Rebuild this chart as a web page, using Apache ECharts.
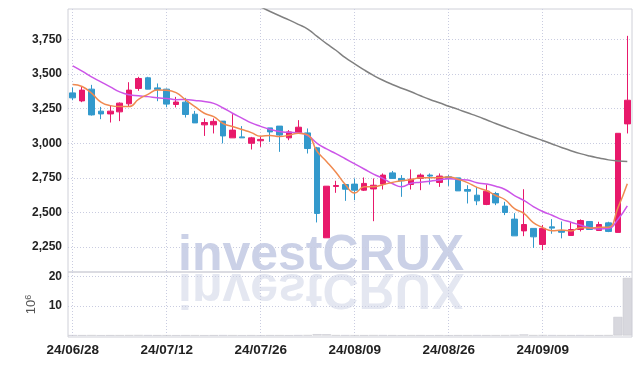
<!DOCTYPE html>
<html>
<head>
<meta charset="utf-8">
<script src="https://cdn.jsdelivr.net/npm/echarts@6/dist/echarts.min.js"></script>
<style>
html,body{margin:0;padding:0;background:#fff;}
#chart{width:642px;height:366px;}
</style>
</head>
<body>
<div id="chart"></div>
<script>
const dates = ['24/06/28','24/07/01','24/07/02','24/07/03','24/07/04','24/07/05','24/07/08','24/07/09','24/07/10','24/07/11',
'24/07/12','24/07/15','24/07/16','24/07/17','24/07/18','24/07/19','24/07/22','24/07/23','24/07/24','24/07/25',
'24/07/26','24/07/29','24/07/30','24/07/31','24/08/01','24/08/02','24/08/05','24/08/06','24/08/07','24/08/08',
'24/08/09','24/08/12','24/08/13','24/08/14','24/08/16','24/08/19','24/08/20','24/08/21','24/08/22','24/08/23',
'24/08/26','24/08/27','24/08/28','24/08/29','24/08/30','24/09/02','24/09/03','24/09/04','24/09/05','24/09/06',
'24/09/09','24/09/10','24/09/11','24/09/12','24/09/13','24/09/19','24/09/20','24/09/23','24/09/24','24/09/25'];

// [open, close, low, high]
const candles = [
[3364,3328,3311,3403],[3306,3384,3297,3413],[3391,3205,3200,3422],[3232,3212,3174,3263],[3212,3232,3150,3273],
[3227,3290,3160,3295],[3285,3384,3263,3441],[3396,3468,3379,3480],[3473,3391,3390,3480],[3400,3389,3304,3432],
[3391,3283,3260,3395],[3280,3298,3259,3335],[3297,3208,3186,3328],[3210,3147,3147,3234],[3133,3150,3053,3179],
[3133,3158,3071,3179],[3160,3053,2999,3160],[3039,3095,3039,3210],[3046,3039,3039,3124],[3000,3039,2955,3046],
[3018,3028,2974,3046],[3111,3082,3010,3111],[3124,3059,2938,3124],[3039,3082,3022,3095],[3078,3116,3078,3167],
[3075,2962,2926,3107],[2967,2493,2428,2974],[2317,2690,2317,2690],[2688,2695,2642,2729],[2702,2668,2584,2702],
[2705,2661,2589,2746],[2661,2710,2655,2753],[2670,2697,2437,2746],[2705,2770,2666,2782],[2786,2746,2746,2800],
[2746,2729,2613,2770],[2702,2741,2666,2811],[2746,2770,2661,2782],[2770,2763,2702,2782],[2717,2763,2685,2782],
[2758,2746,2692,2770],[2750,2656,2656,2750],[2666,2654,2565,2697],[2625,2584,2553,2685],[2558,2654,2553,2702],
[2637,2569,2553,2649],[2546,2500,2481,2577],[2452,2331,2331,2495],[2367,2413,2329,2668],[2385,2324,2244,2385],
[2269,2385,2228,2410],[2396,2387,2346,2452],[2367,2357,2313,2435],[2334,2377,2334,2433],[2377,2442,2363,2450],
[2435,2377,2377,2435],[2370,2413,2370,2433],[2425,2363,2358,2433],[2356,3072,2356,3072],[3140,3311,3071,3776]
];

const ma5 = [3425,3410,3362,3298,3272,3265,3265,3317,3353,3384,
3383,3366,3314,3265,3217,3192,3143,3121,3099,3077,
3051,3057,3049,3058,3073,3060,2942,2869,2791,2702,
2641,2685,2686,2701,2717,2730,2737,2751,2750,2753,
2757,2740,2716,2681,2659,2623,2592,2528,2493,2427,
2391,2368,2373,2366,2390,2388,2393,2394,2533,2707];

const ma10 = [3559,3521,3480,3444,3408,3371,3350,3343,3337,3328,
3324,3315,3316,3309,3301,3288,3255,3217,3182,3147,
3122,3100,3085,3079,3075,3056,3000,2959,2925,2888,
2851,2814,2777,2746,2709,2686,2711,2719,2726,2735,
2744,2738,2734,2715,2706,2690,2666,2622,2587,2543,
2507,2480,2450,2430,2409,2389,2381,2384,2450,2548];

const ma60 = [4392,4385,4373,4366,4350,4339,4321,4308,4286,4270,
4245,4226,4198,4177,4148,4127,4096,4071,4040,4012,
3984,3952,3921,3891,3859,3825,3772,3720,3672,3618,
3574,3530,3490,3455,3425,3398,3372,3343,3316,3293,
3268,3245,3220,3196,3170,3143,3117,3093,3068,3043,
3020,2995,2970,2946,2925,2908,2894,2880,2872,2868];

// volume in millions
const volumes = [0.08,0.06,0.09,0.05,0.06,0.07,0.1,0.12,0.08,0.06,
0.07,0.05,0.06,0.07,0.05,0.06,0.08,0.07,0.05,0.06,
0.05,0.06,0.07,0.05,0.08,0.12,0.45,0.4,0.1,0.08,
0.07,0.06,0.09,0.08,0.06,0.05,0.07,0.06,0.05,0.06,
0.05,0.06,0.07,0.08,0.06,0.07,0.09,0.15,0.35,0.1,
0.12,0.08,0.07,0.06,0.08,0.07,0.06,0.1,6.3,19.5];

const priceTicks = [2250,2500,2750,3000,3250,3500,3750];
const volumeTicks = [10,20];

const labelFont = "'Liberation Sans',Arial,sans-serif";
const gridLine = {show:true, lineStyle:{color:'#c9cce0', type:[1,2], width:1}};

const chart = echarts.init(document.getElementById('chart'), null, {renderer:'canvas'});
chart.setOption({
  animation:false,
  backgroundColor:'#fff',
  grid:[
    {left:68, right:10, top:9, height:263, show:true, borderColor:'#cfd0d8', borderWidth:1},
    {left:68, right:10, top:272, height:65, show:true, borderColor:'#cfd0d8', borderWidth:1}
  ],
  graphic:[
    {type:'text', x:178, y:281, z:0, silent:true,
     style:{text:'investCRUX', font:"bold 50px 'Liberation Sans','DejaVu Sans',sans-serif", fill:'#cbd1e7', verticalAlign:'bottom'}},
    {type:'text', x:178, y:263, scaleY:-1, z:0, silent:true,
     style:{text:'investCRUX', font:"bold 50px 'Liberation Sans','DejaVu Sans',sans-serif", fill:'#e4e7f1', verticalAlign:'bottom'}}
  ],
  xAxis:[
    {type:'category', gridIndex:0, data:dates, boundaryGap:true,
     axisLine:{show:false}, axisTick:{show:false}, axisLabel:{show:false, interval:9},
     splitLine:Object.assign({interval:9, alignWithLabel:true}, gridLine)},
    {type:'category', gridIndex:1, data:dates, boundaryGap:true,
     axisLine:{show:false}, axisTick:{show:false},
     axisLabel:{show:true, interval:9, margin:6, color:'#222', fontFamily:labelFont, fontWeight:'bold', fontSize:13.5},
     splitLine:Object.assign({interval:9, alignWithLabel:true}, gridLine)}
  ],
  yAxis:[
    {type:'value', gridIndex:0, min:2070, max:3970,
     axisLine:{show:false}, axisTick:{show:false, customValues:priceTicks},
     axisLabel:{customValues:priceTicks, margin:6, color:'#222', fontFamily:labelFont, fontWeight:'bold', fontSize:12},
     splitLine:gridLine},
    {type:'value', gridIndex:1, min:-0.5, max:21.5,
     axisLine:{show:false}, axisTick:{show:false, customValues:volumeTicks},
     axisLabel:{customValues:volumeTicks, margin:6, color:'#222', fontFamily:labelFont, fontWeight:'bold', fontSize:12},
     splitLine:gridLine,
     name:'10{s|6}', nameLocation:'middle', nameGap:25, nameRotate:90,
     nameTextStyle:{color:'#555', fontSize:13, fontFamily:"'Liberation Sans',sans-serif",
       rich:{s:{fontSize:9, verticalAlign:'top', color:'#555', fontFamily:"'Liberation Sans',sans-serif", padding:[0,0,6,0]}}}}
  ],
  series:[
    {type:'candlestick', name:'price', xAxisIndex:0, yAxisIndex:0, data:candles, barWidth:'65%',
     itemStyle:{color:'#e8196b', color0:'#3399cc', borderColor:'#e8196b', borderColor0:'#3399cc', borderWidth:1}},
    {type:'line', name:'MA60', xAxisIndex:0, yAxisIndex:0, data:ma60, smooth:true, showSymbol:false,
     lineStyle:{color:'#808080', width:1.5}},
    {type:'line', name:'MA10', xAxisIndex:0, yAxisIndex:0, data:ma10, smooth:true, showSymbol:false,
     lineStyle:{color:'#cc55e8', width:1.5}},
    {type:'line', name:'MA5', xAxisIndex:0, yAxisIndex:0, data:ma5, smooth:true, showSymbol:false,
     lineStyle:{color:'#f08a50', width:1.5}},
    {type:'bar', name:'volume', xAxisIndex:1, yAxisIndex:1, data:volumes, barCategoryGap:'4%',
     itemStyle:{color:'#d8d8de', borderColor:'#c4c4cc', borderWidth:0.5}}
  ]
});
</script>
</body>
</html>
